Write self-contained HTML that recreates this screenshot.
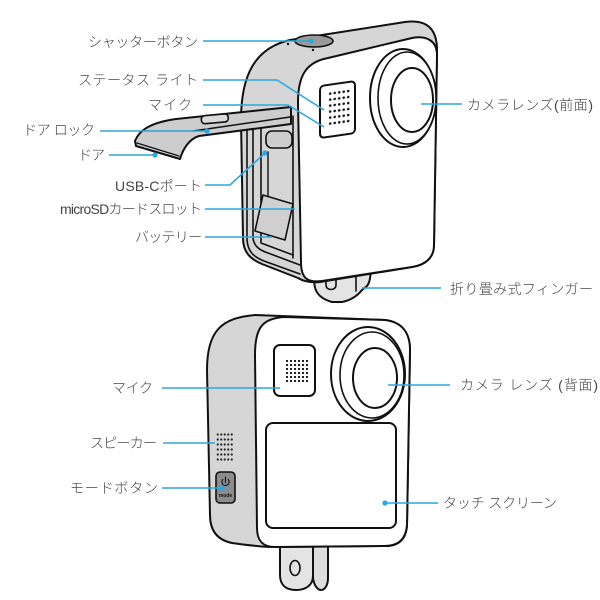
<!DOCTYPE html>
<html><head><meta charset="utf-8">
<style>
html,body{margin:0;padding:0;background:#fff;}
svg{display:block;}
text{font-family:"Liberation Sans","Noto Sans CJK JP",sans-serif;font-size:14px;font-weight:300;fill:#444;}
</style></head><body>
<svg width="600" height="600" viewBox="0 0 600 600" xmlns="http://www.w3.org/2000/svg">
<defs>
<pattern id="d1" x="8" y="6" width="4.5" height="6" patternUnits="userSpaceOnUse"><circle cx="2.2" cy="3" r="1.3" fill="#111"/></pattern>
<pattern id="d2" x="285" y="359" width="4" height="4" patternUnits="userSpaceOnUse"><circle cx="2" cy="2" r="1.15" fill="#111"/></pattern>
<pattern id="d3" x="216" y="432" width="3.5" height="5" patternUnits="userSpaceOnUse"><circle cx="1.75" cy="2.5" r="1.1" fill="#222"/></pattern>
</defs>

<g fill="none" stroke="#111" stroke-width="2" stroke-linejoin="round" stroke-linecap="round">
<!-- ===== TOP CAMERA ===== -->
<path d="M315 274 C312 290 318 298 332 302 L342 302 C352 300 358 295 362 290 L367 286 C371 281 371 272 370 258 L340 268 Z" fill="#e4e4e4"/>
<path d="M326 279 L326 285 C326 291 336 291 336 285 L336 279" stroke-width="1.6"/>
<path d="M356 268 L356 291" stroke-width="1.6"/>

<path d="M241 120 C241 75 255 48 290 40 L405 22 C428 19 437 30 437 50 L434 245 C434 258 425 265 412 267 L320 282 C310 283 303 281 298 278 L262 264 C250 259 243 252 243 238 Z" fill="#d6d6d6"/>
<path d="M247 118 L247 240 C248 252 254 257 264 261 L300 274" stroke-width="1.6"/>
<path d="M253 122 L253 238 C254 246 259 250 268 253 L300 265" stroke-width="1.6"/>
<path d="M261 128 L261 243 L293 255" stroke-width="1.6"/>
<path d="M268 152 L268 236" stroke-width="1.4"/>
<path d="M293 116 L293 258" stroke-width="1.6"/>
<rect x="266" y="131" width="26" height="17" rx="6" fill="#cdcdcd" stroke-width="1.6"/>
<polygon points="263,195 293,204 285,240 255,231" fill="#d0d0d0" stroke-width="1.6"/>

<path d="M298 102 C298 76 306 62 328 58 L412 38 C428 35 437 42 437 55 L434 245 C434 258 425 265 412 267 L322 281 C307 283 301 278 301 262 Z" fill="#fff"/>
<ellipse cx="314" cy="41" rx="19" ry="6" fill="#9a9a9a" stroke-width="1.6"/>
<circle cx="288" cy="44" r="1.2" fill="#111" stroke="none"/>
<circle cx="313" cy="50" r="1.2" fill="#111" stroke="none"/>
<g transform="translate(320,86) skewY(-8)">
<rect x="0" y="0" width="35" height="52" rx="4" fill="#fff"/>
<rect x="8" y="6" width="22.5" height="36" fill="url(#d1)" stroke="none"/>
</g>
<ellipse cx="403" cy="98" rx="33" ry="49" fill="#fff"/>
<ellipse cx="407" cy="98" rx="29" ry="46" fill="#fff" stroke-width="1.6"/>
<ellipse cx="412" cy="100" rx="21" ry="32" fill="#fff"/>

<path d="M135 141 C140 128 155 122 176 119 L291 107 L291 124 L199 136 C189 139 183 149 180 159 L136 146 Z" fill="#cdcdcd"/>
<path d="M193 131 L290 117" stroke-width="1.5"/>
<path d="M137 143 L179 156" stroke-width="1.2"/>
<rect x="0" y="0" width="27" height="8" rx="3.5" fill="#dadada" stroke-width="1.6" transform="translate(201,116) rotate(-5)"/>

<!-- ===== BOTTOM CAMERA ===== -->
<path d="M313 538 L313 578 C314 586 318 590 321 590 C325 590 328 585 328 578 L328 538 Z" fill="#dedede"/>
<path d="M280 538 L280 575 C280 585 286 590 296 590 C306 590 313 585 313 576 L313 538 Z" fill="#e4e4e4"/>
<ellipse cx="295" cy="568" rx="5" ry="7.5" stroke-width="1.6"/>

<path d="M207 370 C207 330 222 318 255 315 L385 320 C402 322 410 333 410 350 L407 525 C406 540 398 546 385 546 L270 547 C255 546 245 545 232 543 C217 540 210 530 210 515 Z" fill="#d6d6d6"/>
<path d="M255 355 C255 328 262 318 285 317 L385 320 C402 322 410 333 410 350 L407 525 C406 540 398 546 385 546 L275 547 C262 547 257 540 257 528 Z" fill="#fff"/>
<rect x="274" y="345" width="41" height="51" rx="6" fill="#fff"/>
<rect x="285" y="359" width="24" height="24" fill="url(#d2)" stroke="none"/>
<ellipse cx="368" cy="374" rx="37" ry="47" fill="#fff"/>
<ellipse cx="372" cy="375" rx="32" ry="43" fill="#fff" stroke-width="1.6"/>
<ellipse cx="375" cy="378" rx="22" ry="30" fill="#fff"/>
<rect x="266" y="423" width="130" height="105" rx="7" fill="#fff"/>
<rect x="216" y="432" width="17.5" height="30" fill="url(#d3)" stroke="none"/>
<rect x="216" y="472" width="19" height="31" rx="4" fill="#8c8c8c" stroke-width="1.6"/>
<path d="M222.8 479.5 A3.6 3.6 0 1 0 228.2 479.5" stroke-width="1.1"/>
<path d="M225.5 477 L225.5 482.5" stroke-width="1.1"/>
</g>
<text x="225.5" y="497" text-anchor="middle" style="font-size:5px;font-weight:bold;fill:#111">mode</text>

<!-- ===== LEADER LINES ===== -->
<g stroke="#2aa7df" stroke-width="1.6" fill="none">
<path d="M203 41 L311 41"/>
<path d="M203 80 L277 80 L324 110"/>
<path d="M203 105 L288 105 L324 127"/>
<path d="M100 131 L207 131"/>
<path d="M109 155 L155 155"/>
<path d="M205 185 L230 185 L265 153"/>
<path d="M205 209 L295 209"/>
<path d="M205 237 L272 237"/>
<path d="M421 104 L462 104"/>
<path d="M362 288 L441 288"/>
<path d="M162 388 L280 388"/>
<path d="M163 443 L215 443"/>
<path d="M162 488 L222 488"/>
<path d="M388 385 L450 385"/>
<path d="M385 503 L438 503"/>
</g>
<g fill="#2aa7df">
<circle cx="311" cy="41" r="2.6"/>
<circle cx="207" cy="131" r="2.6"/>
<circle cx="155" cy="155" r="2.6"/>
<circle cx="265" cy="153" r="2.6"/>
<circle cx="222" cy="488" r="2.6"/>
<circle cx="385" cy="503" r="2.6"/>
</g>

<!-- ===== LABELS ===== -->
<text x="88" y="47" textLength="110">シャッターボタン</text>
<text x="78" y="85" textLength="120">ステータス ライト</text>
<text x="148" y="110" textLength="44">マイク</text>
<text x="23" y="135" textLength="72">ドア ロック</text>
<text x="78" y="160" textLength="27">ドア</text>
<text x="115" y="191" textLength="87">USB-Cポート</text>
<text x="60" y="214" textLength="142">microSDカードスロット</text>
<text x="135" y="242" textLength="67">バッテリー</text>
<text x="467" y="110" textLength="126">カメラレンズ(前面)</text>
<text x="450" y="294" textLength="143">折り畳み式フィンガー</text>
<text x="112" y="393" textLength="41">マイク</text>
<text x="90" y="448" textLength="67">スピーカー</text>
<text x="70" y="493" textLength="88">モードボタン</text>
<text x="460" y="390" textLength="138">カメラ レンズ (背面)</text>
<text x="443" y="508" textLength="114">タッチ スクリーン</text>
</svg>
</body></html>
